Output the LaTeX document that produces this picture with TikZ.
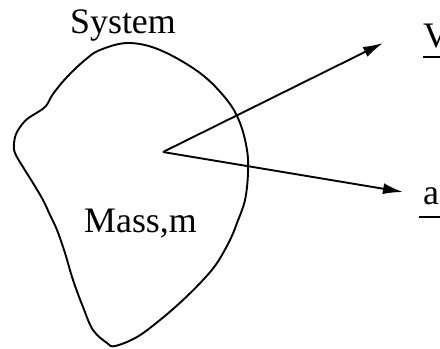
\documentclass[tikz,border=0pt]{standalone}
\usepackage{fontspec}
\setmainfont{Liberation Serif}
\usetikzlibrary{arrows.meta}
\tikzset{
  lbl/.style={inner sep=0pt, font=\fontsize{36}{40}\selectfont},
  vec/.style={line width=1.9bp, -{Latex[length=20bp,width=11bp]}},
  outline/.style={line width=1.9bp}
}
\begin{document}
\begin{tikzpicture}[x=1bp,y=-1bp]
\useasboundingbox (0,0) rectangle (440,348);
\clip (0,0) rectangle (440,348);
\fill[white] (0,0) rectangle (440,348);
% system outline
\draw[outline] plot[smooth cycle, tension=0.6] coordinates {
  (128,43) (160,50) (200,73) (227,100) (240,123) (247,150) (248,173)
  (245,200) (237,223) (230,240) (217,263) (203,280) (183,300) (160,320)
  (137,337) (115,346) (107,343) (93,330) (83,307) (73,280) (65,253)
  (57,230) (50,215) (43,200) (33,183) (23,167) (15,153) (14,143)
  (17,132) (26,120) (38,112) (46,106) (53,94) (67,77) (85,60) (100,50)};
\node[lbl, anchor=base west] (sys) at (70,33) {System};
\node[lbl, anchor=base west] (mass) at (84,232) {Mass,m};
\coordinate (O) at (163,152);
\coordinate (Vt) at (383,43);
\coordinate (At) at (403,192);
\draw[vec] (O) -- (Vt);
\draw[vec] (O) -- (At);
\node[lbl, anchor=base west] (V) at (423,47) {\rlap{\rule[-11bp]{30bp}{1.9bp}}V};
\node[lbl, anchor=base west] (a) at (423,204) {\rlap{\hspace*{-4bp}\rule[-14bp]{30bp}{1.9bp}}a};
\end{tikzpicture}
\end{document}
